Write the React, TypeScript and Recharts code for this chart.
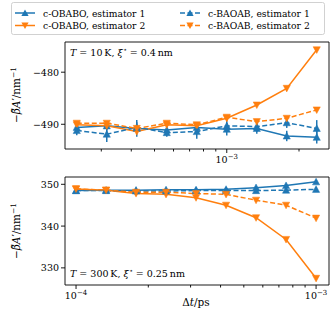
import React from "react";
import { LineChart, Line, XAxis, YAxis, ReferenceArea, ErrorBar } from "recharts";

const BLUE = "#1f77b4";
const ORANGE = "#ff7f0e";
const FONT = "DejaVu Serif";

// time steps (ps)
const dtTop = [2.371e-4, 3.162e-4, 4.217e-4, 5.623e-4, 7.499e-4, 1.0e-3, 1.334e-3, 1.778e-3, 2.371e-3];
const dtBottom = [1.0e-4, 1.334e-4, 1.778e-4, 2.371e-4, 3.162e-4, 4.217e-4, 5.623e-4, 7.499e-4, 1.0e-3];

// T = 10 K panel
const obabo1Top = [-490.6, -490.3, -490.8, -491.1, -490.6, -490.95, -490.8, -492.25, -492.5];
const obabo1TopErr = [0.8, 0.9, 1.6, 0.9, 1.0, 1.2, 1.0, 1.0, 1.2];
const obabo2Top = [-490.1, -490.3, -491.4, -490.1, -490.3, -488.85, -486.3, -483.1, -475.7];
const baoab1Top = [-491.2, -491.9, -490.6, -491.6, -491.4, -490.3, -490.45, -489.7, -490.8];
const baoab1TopErr = [0.9, 1.5, 1.0, 0.8, 1.4, 1.0, 1.0, 1.0, 1.6];
const baoab2Top = [-489.8, -489.8, -490.8, -489.8, -490.1, -488.65, -489.5, -488.85, -487.25];

// T = 300 K panel
const obabo1Bot = [348.5, 348.6, 348.6, 348.7, 348.7, 348.8, 349.2, 349.7, 350.6];
const obabo1BotErr = [0.4, 0.4, 0.4, 0.4, 0.4, 0.4, 0.4, 0.4, 0.5];
const obabo2Bot = [348.9, 348.6, 347.8, 347.6, 346.8, 345.0, 342.0, 336.8, 327.5];
const baoab1Bot = [348.5, 348.5, 348.4, 348.4, 348.5, 348.5, 348.5, 348.6, 348.8];
const baoab1BotErr = [0.4, 0.4, 0.4, 0.4, 0.4, 0.4, 0.4, 0.4, 0.5];
const baoab2Bot = [348.9, 348.6, 348.1, 348.1, 347.8, 347.6, 346.2, 345.0, 341.9];

const xDomainTop = [2.118e-4, 2.667e-3];
const xDomainBottom = [8.995e-5, 1.132e-3];
const yDomainTop = [-494.75, -474.2];
const yDomainBottom = [325.9, 351.75];
const yTicksTop = [-490, -480];
const yTicksBottom = [330, 340, 350];
const xMajorTop = [1e-3];
const xMinorTop = [3e-4, 4e-4, 5e-4, 6e-4, 7e-4, 8e-4, 9e-4, 2e-3];
const xMajorBottom = [1e-4, 1e-3];
const xMinorBottom = [2e-4, 3e-4, 4e-4, 5e-4, 6e-4, 7e-4, 8e-4, 9e-4];

const legendItems = [
  { label: "c-OBABO, estimator 1", color: BLUE, up: true, dash: false },
  { label: "c-OBABO, estimator 2", color: ORANGE, up: false, dash: false },
  { label: "c-BAOAB, estimator 1", color: BLUE, up: true, dash: true },
  { label: "c-BAOAB, estimator 2", color: ORANGE, up: false, dash: true },
];

const topData = dtTop.map((dt, i) => ({
  dt,
  o1: obabo1Top[i],
  o1e: obabo1TopErr[i],
  o2: obabo2Top[i],
  b1: baoab1Top[i],
  b1e: baoab1TopErr[i],
  b2: baoab2Top[i],
}));
const bottomData = dtBottom.map((dt, i) => ({
  dt,
  o1: obabo1Bot[i],
  o1e: obabo1BotErr[i],
  o2: obabo2Bot[i],
  b1: baoab1Bot[i],
  b1e: baoab1BotErr[i],
  b2: baoab2Bot[i],
}));

const R = 3.6;
function triPoints(cx: number, cy: number, up: boolean) {
  if (up) return `${cx},${cy - R} ${cx - R},${cy + R * 0.85} ${cx + R},${cy + R * 0.85}`;
  return `${cx},${cy + R} ${cx - R},${cy - R * 0.85} ${cx + R},${cy - R * 0.85}`;
}

const makeDot = (color: string, up: boolean) => (p: any) => {
  if (p.cx == null || p.cy == null) return <g key={p.key} />;
  return <polygon key={p.key} points={triPoints(p.cx, p.cy, up)} fill={color} stroke={color} strokeWidth={0.5} />;
};

const makeXTick = (majors: number[]) => (p: any) => {
  const { x, y, payload } = p;
  const v = payload.value;
  const major = majors.some((m) => Math.abs(m - v) / m < 1e-6);
  const exp = Math.round(Math.log10(v));
  return (
    <g>
      <line x1={x} x2={x} y1={y} y2={y + (major ? 4 : 2.5)} stroke="#000" strokeWidth={0.9} />
      {major && (
        <text x={x} y={y + 14} textAnchor="middle" fontFamily={FONT} fontSize={9.5} fill="#000">
          10
          <tspan dy={-4} fontSize={7}>{"\u2212" + Math.abs(exp)}</tspan>
        </text>
      )}
    </g>
  );
};

const YTick = (p: any) => {
  const { x, y, payload } = p;
  const v = payload.value;
  const s = v < 0 ? "\u2212" + Math.abs(v) : String(v);
  return (
    <g>
      <line x1={x - 4} x2={x} y1={y} y2={y} stroke="#000" strokeWidth={0.9} />
      <text x={x - 6} y={y + 3.5} textAnchor="end" fontFamily={FONT} fontSize={9.5} fill="#000">
        {s}
      </text>
    </g>
  );
};

function Series() {
  return null;
}

function Panel(props: {
  data: any[];
  width: number;
  height: number;
  margin: any;
  xDomain: number[];
  yDomain: number[];
  yTicks: number[];
  xMajor: number[];
  xMinor: number[];
  xHeight: number;
}) {
  const { data, xDomain, yDomain } = props;
  return (
    <LineChart width={props.width} height={props.height} data={data} margin={props.margin}>
      <XAxis
        dataKey="dt"
        type="number"
        scale="log"
        domain={xDomain}
        allowDataOverflow
        ticks={[...props.xMajor, ...props.xMinor]}
        tick={makeXTick(props.xMajor)}
        tickLine={false}
        axisLine={false}
        tickSize={0}
        tickMargin={0}
        height={props.xHeight}
        interval={0}
      />
      <YAxis
        type="number"
        domain={yDomain}
        allowDataOverflow
        ticks={props.yTicks}
        tick={YTick}
        tickLine={false}
        axisLine={false}
        tickSize={0}
        tickMargin={0}
        width={65}
        interval={0}
      />
      <Line dataKey="o1" stroke={BLUE} strokeWidth={1.5} dot={makeDot(BLUE, true)} activeDot={false} isAnimationActive={false}>
        <ErrorBar dataKey="o1e" width={0} stroke={BLUE} strokeWidth={1.5} direction="y" />
      </Line>
      <Line dataKey="o2" stroke={ORANGE} strokeWidth={1.5} dot={makeDot(ORANGE, false)} activeDot={false} isAnimationActive={false} />
      <Line dataKey="b1" stroke={BLUE} strokeWidth={1.5} strokeDasharray="5 2.5" dot={makeDot(BLUE, true)} activeDot={false} isAnimationActive={false}>
        <ErrorBar dataKey="b1e" width={0} stroke={BLUE} strokeWidth={1.5} direction="y" />
      </Line>
      <Line dataKey="b2" stroke={ORANGE} strokeWidth={1.5} strokeDasharray="5 2.5" dot={makeDot(ORANGE, false)} activeDot={false} isAnimationActive={false} />
      <ReferenceArea
        x1={xDomain[0]}
        x2={xDomain[1]}
        y1={yDomain[0]}
        y2={yDomain[1]}
        fill="none"
        fillOpacity={0}
        stroke="#000"
        strokeWidth={0.9}
        ifOverflow="visible"
      />
    </LineChart>
  );
}

function YLabel({ cx, cy }: { cx: number; cy: number }) {
  return (
    <text
      transform={`translate(${cx},${cy}) rotate(-90)`}
      textAnchor="middle"
      fontFamily={FONT}
      fontSize={10.5}
      fill="#000"
    >
      {"\u2212"}
      <tspan fontStyle="italic">{"\u03B2\u0303A"}</tspan>
      {"\u2032/nm"}
      <tspan dy={-4.5} fontSize={7.5}>{"\u22121"}</tspan>
    </text>
  );
}

function Legend() {
  const colX = [15, 180];
  const rowY = [13, 25.5];
  return (
    <g>
      <rect x={11.5} y={2.5} width={313} height={32} rx={2} ry={2} fill="#fff" fillOpacity={0.8} stroke="#cccccc" strokeWidth={0.9} />
      {legendItems.map((it, i) => {
        const col = Math.floor(i / 2);
        const row = i % 2;
        const x0 = colX[col];
        const y = rowY[row];
        return (
          <g key={it.label}>
            <line x1={x0} x2={x0 + 20} y1={y} y2={y} stroke={it.color} strokeWidth={1.5} strokeDasharray={it.dash ? "5 2.5" : undefined} />
            <polygon points={triPoints(x0 + 10, y, it.up)} fill={it.color} />
            <text x={x0 + 28} y={y + 3.5} fontFamily={FONT} fontSize={9.2} fill="#000">
              {it.label}
            </text>
          </g>
        );
      })}
    </g>
  );
}

export default function App() {
  return (
    <div style={{ position: "absolute", left: 0, top: 0, width: 334, height: 318, background: "#fff" }}>
      <div style={{ position: "absolute", left: 0, top: 0 }}>
        <Panel
          data={topData}
          width={334}
          height={165}
          margin={{ top: 42, right: 5, bottom: 0, left: 0 }}
          xDomain={xDomainTop}
          yDomain={yDomainTop}
          yTicks={yTicksTop}
          xMajor={xMajorTop}
          xMinor={xMinorTop}
          xHeight={16}
        />
      </div>
      <div style={{ position: "absolute", left: 0, top: 165 }}>
        <Panel
          data={bottomData}
          width={334}
          height={153}
          margin={{ top: 12, right: 5, bottom: 0, left: 0 }}
          xDomain={xDomainBottom}
          yDomain={yDomainBottom}
          yTicks={yTicksBottom}
          xMajor={xMajorBottom}
          xMinor={xMinorBottom}
          xHeight={33}
        />
      </div>
      <svg width={334} height={318} style={{ position: "absolute", left: 0, top: 0, pointerEvents: "none" }}>
        <Legend />
        <YLabel cx={20} cy={95} />
        <YLabel cx={20} cy={231} />
        <text x={70} y={56} fontFamily={FONT} fontSize={9.5} fill="#000">
          <tspan fontStyle="italic">T</tspan>
          {" = 10\u2009K, "}
          <tspan fontStyle="italic">{"\u03BE"}</tspan>
          <tspan dy={-4} fontSize={7}>{"\u22C6"}</tspan>
          <tspan dy={4}>{" = 0.4\u2009nm"}</tspan>
        </text>
        <text x={70} y={277} fontFamily={FONT} fontSize={9.5} fill="#000">
          <tspan fontStyle="italic">T</tspan>
          {" = 300\u2009K, "}
          <tspan fontStyle="italic">{"\u03BE"}</tspan>
          <tspan dy={-4} fontSize={7}>{"\u22C6"}</tspan>
          <tspan dy={4}>{" = 0.25\u2009nm"}</tspan>
        </text>
        <text x={196} y={306} textAnchor="middle" fontFamily={FONT} fontSize={10.5} fill="#000">
          {"\u0394"}
          <tspan fontStyle="italic">t</tspan>
          {"/ps"}
        </text>
      </svg>
    </div>
  );
}
